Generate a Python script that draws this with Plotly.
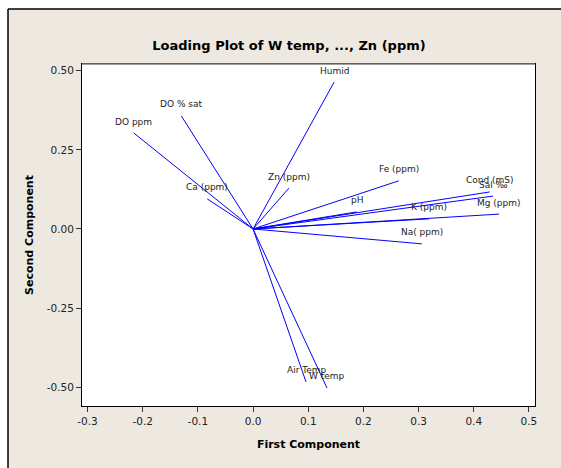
import plotly.graph_objects as go

variables = ["Humid", "DO % sat", "DO ppm", "Ca (ppm)", "Zn (ppm)", "Fe (ppm)",
             "Cond (mS)", "Sal ‰", "Mg (ppm)", "K (ppm)", "pH", "Na( ppm)",
             "Air Temp", "W temp"]
pc1 = [0.147, -0.130, -0.216, -0.083, 0.065, 0.264,
       0.429, 0.435, 0.446, 0.319, 0.188, 0.306,
       0.096, 0.134]
pc2 = [0.464, 0.357, 0.303, 0.095, 0.129, 0.152,
       0.117, 0.104, 0.047, 0.032, 0.054, -0.047,
       -0.483, -0.502]

x_ticks = [-0.3, -0.2, -0.1, 0.0, 0.1, 0.2, 0.3, 0.4, 0.5]
x_labels = ["-0.3", "-0.2", "-0.1", "0.0", "0.1", "0.2", "0.3", "0.4", "0.5"]
y_ticks = [-0.5, -0.25, 0.0, 0.25, 0.5]
y_labels = ["-0.50", "-0.25", "0.00", "0.25", "0.50"]

W, H = 561, 468
L, R, T, B = 82, 26, 64, 62
pw, ph = W - L - R, H - T - B

fig = go.Figure()
for name, a, b in zip(variables, pc1, pc2):
    fig.add_trace(go.Scatter(x=[0, a], y=[0, b], mode="lines",
                             line=dict(color="#0000FF", width=1),
                             hoverinfo="skip", showlegend=False))
    fig.add_annotation(x=a, y=b, text=name, showarrow=False,
                       xanchor="center", yanchor="middle", yshift=11.5,
                       font=dict(family="DejaVu Sans", size=9, color="#222222"))

beige = "#EDE9E0"
fx = (8 - L) / pw
fy = (H - 9 - B) / ph
shapes = [
    dict(type="rect", xref="paper", yref="paper", x0=-1, x1=fx, y0=-1, y1=3,
         fillcolor="white", line=dict(width=0), layer="above"),
    dict(type="rect", xref="paper", yref="paper", x0=-1, x1=3, y0=fy, y1=3,
         fillcolor="white", line=dict(width=0), layer="above"),
    dict(type="line", xref="paper", yref="paper", x0=fx, x1=fx, y0=-1, y1=fy,
         line=dict(color="black", width=1.5), layer="above"),
    dict(type="line", xref="paper", yref="paper", x0=fx, x1=3, y0=fy, y1=fy,
         line=dict(color="black", width=1.5), layer="above"),
    dict(type="line", xref="paper", yref="paper", x0=0, x1=1, y0=1, y1=1,
         line=dict(color="#808080", width=1.5), layer="above"),
]

fig.update_layout(
    width=W, height=H,
    margin=dict(l=L, r=R, t=T, b=B),
    paper_bgcolor=beige, plot_bgcolor="white",
    font=dict(family="DejaVu Sans", color="#222222"),
    title=dict(text="<b>Loading Plot of W temp, ..., Zn (ppm)</b>",
               x=289 / W, xanchor="center", y=1 - 45 / H, yanchor="middle",
               xref="container", yref="container",
               font=dict(family="DejaVu Sans", size=13, color="black")),
    shapes=shapes,
)
fig.update_xaxes(range=[-0.310, 0.511], tickvals=x_ticks, ticktext=x_labels,
                 showgrid=False, zeroline=False, showline=True, mirror=True,
                 linecolor="black", linewidth=1, ticks="outside", ticklen=5,
                 tickcolor="#333333", tickfont=dict(size=10.5, color="#222222"),
                 title=dict(text="<b>First Component</b>", standoff=14,
                            font=dict(size=11, color="black")))
fig.update_yaxes(range=[-0.559, 0.521], tickvals=y_ticks, ticktext=y_labels,
                 showgrid=False, zeroline=False, showline=True, mirror=True,
                 linecolor="black", linewidth=1, ticks="outside", ticklen=5,
                 tickcolor="#333333", tickfont=dict(size=10.5, color="#222222"),
                 title=dict(text="<b>Second Component</b>", standoff=10,
                            font=dict(size=11, color="black")))

fig.write_html("out.html", config={"displayModeBar": False},
               post_script="document.body.style.margin='0';document.body.style.overflow='hidden';")
